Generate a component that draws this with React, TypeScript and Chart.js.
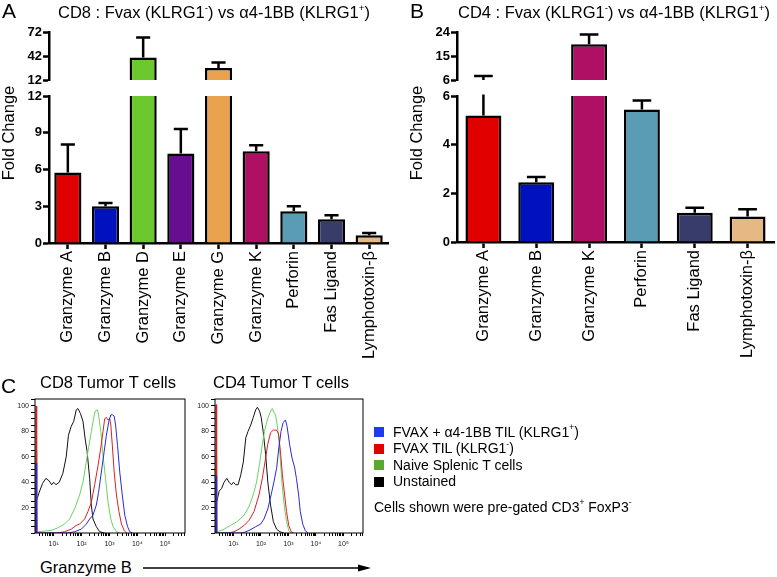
import React, { useEffect, useRef } from "react";
import { Chart, registerables } from "chart.js";
Chart.register(...registerables);

const FONT = "'Liberation Sans', Arial, Helvetica, sans-serif";
Chart.defaults.font.family = FONT;

// ---------- Panel A (CD8) ----------
const catsA = ["Granzyme A", "Granzyme B", "Granzyme D", "Granzyme E", "Granzyme G", "Granzyme K", "Perforin", "Fas Ligand", "Lymphotoxin-β"];
const valsA = [5.75, 3.0, 40, 7.3, 27, 7.5, 2.6, 1.93, 0.63];
const errA = [8.05, 3.27, 65, 9.3, 34, 7.97, 3.0, 2.26, 0.82];
const colorsA = ["#e00000", "#0012c0", "#6bc82f", "#660e8f", "#eba24f", "#b01064", "#5b9cb5", "#383c6a", "#e6b984"];
const lowTicksA = [0, 3, 6, 9, 12];
const highTicksA = [12, 42, 72];

// ---------- Panel B (CD4) ----------
const catsB = ["Granzyme A", "Granzyme B", "Granzyme K", "Perforin", "Fas Ligand", "Lymphotoxin-β"];
const valsB = [5.2, 2.46, 19.4, 5.45, 1.2, 1.05];
const errB = [7.5, 2.67, 23.1, 5.82, 1.41, 1.35];
const colorsB = ["#e00000", "#0012c0", "#b01064", "#5b9cb5", "#383c6a", "#e6b984"];
const lowTicksB = [0, 2, 4, 6];
const highTicksB = [6, 15, 24];

// ---------- Panel C histograms: [log10 decade, % of max] ----------
const cd8Black = [[0.33, 20], [0.36, 24], [0.48, 32], [0.6, 39], [0.72, 43], [0.84, 41], [0.93, 38], [1.0, 40], [1.08, 38], [1.2, 40], [1.33, 47], [1.45, 60], [1.53, 77], [1.63, 84], [1.72, 88], [1.81, 97], [1.87, 98], [1.96, 94], [2.05, 88], [2.13, 74], [2.2, 64], [2.29, 43], [2.35, 22], [2.41, 11], [2.53, 5], [2.65, 1], [2.83, 0]];
const cd8Green = [[0.36, 0], [0.37, 65], [0.39, 2], [0.42, 1], [0.9, 2], [1.14, 4], [1.39, 7], [1.57, 11], [1.75, 19], [1.93, 30], [2.05, 40], [2.17, 56], [2.25, 67], [2.35, 80], [2.43, 90], [2.49, 96], [2.57, 97], [2.61, 93], [2.69, 80], [2.77, 61], [2.86, 43], [2.95, 24], [3.05, 11], [3.13, 5], [3.25, 1], [3.37, 0]];
const cd8Red = [[0.36, 0], [0.37, 100], [0.39, 0], [1.14, 0], [1.39, 1], [1.63, 3], [1.81, 6], [1.93, 7], [2.11, 11], [2.23, 17], [2.35, 24], [2.47, 38], [2.59, 53], [2.69, 67], [2.77, 80], [2.83, 90], [2.89, 91], [2.95, 89], [3.01, 90], [3.05, 85], [3.1, 70], [3.17, 48], [3.25, 30], [3.34, 17], [3.43, 7], [3.53, 2], [3.61, 0]];
const cd8Blue = [[0.36, 0], [0.37, 55], [0.39, 0], [1.51, 0], [1.75, 1], [1.99, 3], [2.17, 7], [2.29, 11], [2.41, 14], [2.53, 22], [2.61, 32], [2.71, 48], [2.81, 64], [2.89, 77], [2.98, 88], [3.05, 93], [3.11, 93], [3.17, 92], [3.22, 85], [3.29, 69], [3.37, 48], [3.46, 30], [3.55, 14], [3.65, 5], [3.73, 1], [3.82, 0]];

const cd4Black = [[0.34, 22], [0.4, 25], [0.48, 33], [0.57, 35], [0.66, 40], [0.76, 43], [0.84, 40], [0.93, 38], [1.0, 40], [1.08, 38], [1.17, 38], [1.27, 46], [1.36, 56], [1.45, 75], [1.53, 80], [1.63, 85], [1.72, 91], [1.81, 97], [1.87, 99], [1.95, 96], [2.01, 91], [2.08, 80], [2.17, 62], [2.25, 40], [2.35, 22], [2.45, 9], [2.57, 3], [2.69, 1], [2.83, 0]];
const cd4Green = [[0.36, 0], [0.37, 60], [0.39, 2], [0.42, 1], [0.66, 3], [0.9, 6], [1.14, 9], [1.39, 14], [1.57, 21], [1.72, 30], [1.84, 40], [1.96, 56], [2.05, 70], [2.13, 80], [2.23, 89], [2.33, 95], [2.41, 98], [2.47, 95], [2.53, 93], [2.59, 85], [2.65, 75], [2.71, 56], [2.77, 38], [2.86, 19], [2.93, 9], [3.01, 2], [3.1, 0]];
const cd4Red = [[0.36, 0], [0.37, 101], [0.39, 0], [0.84, 0], [1.02, 1], [1.2, 3], [1.39, 6], [1.57, 10], [1.75, 17], [1.93, 30], [2.05, 43], [2.17, 59], [2.25, 70], [2.35, 79], [2.45, 81], [2.57, 81], [2.64, 78], [2.71, 64], [2.78, 46], [2.86, 30], [2.93, 17], [3.01, 6], [3.1, 1], [3.19, 0]];
const cd4Blue = [[0.36, 0], [0.37, 45], [0.39, 0], [1.33, 0], [1.57, 2], [1.81, 5], [1.99, 7], [2.11, 11], [2.25, 19], [2.37, 30], [2.47, 40], [2.57, 51], [2.65, 67], [2.73, 80], [2.81, 87], [2.89, 89], [2.95, 84], [3.04, 70], [3.13, 59], [3.22, 52], [3.29, 43], [3.37, 30], [3.43, 17], [3.52, 7], [3.61, 2], [3.7, 0]];

const histRange = [0.33, 5.71]; // decades shown on the x axis
const histDecades = [1, 2, 3, 4, 5];
const histYTicks = [20, 40, 60, 80, 100];
const supDigits = ["⁰", "¹", "²", "³", "⁴", "⁵"];

const lineColors = { blue: "#2a2ad8", red: "#dd1f1f", green: "#6ad35c", black: "#111111" };
const legendColors = ["#1f3bf0", "#e00000", "#5aa832", "#000000"];

// ---------- helpers ----------
function makeErrPlugin(vals: number[], errs: number[], capFrac: number) {
  return {
    id: "errBars",
    afterDatasetsDraw(chart: any) {
      const { ctx, chartArea, scales } = chart;
      const xs = scales.x, ys = scales.y;
      const capW = ((chartArea.right - chartArea.left) / vals.length) * capFrac;
      ctx.save();
      ctx.beginPath();
      ctx.rect(chartArea.left, chartArea.top - 1.5, chartArea.right - chartArea.left, chartArea.bottom - chartArea.top + 1.5);
      ctx.clip();
      ctx.strokeStyle = "#000";
      ctx.lineWidth = 2.5;
      vals.forEach((v, i) => {
        if (errs[i] <= ys.min) return;
        const px = xs.getPixelForValue(i);
        const y0 = ys.getPixelForValue(v);
        const y1 = ys.getPixelForValue(errs[i]);
        ctx.beginPath();
        ctx.moveTo(px, y0);
        ctx.lineTo(px, y1);
        ctx.moveTo(px - capW / 2, y1);
        ctx.lineTo(px + capW / 2, y1);
        ctx.stroke();
      });
      ctx.restore();
    },
  };
}

function barConfig(p: {
  cats: string[]; vals: number[]; errs: number[]; colors: string[]; ticks: number[];
  high: boolean; barPct: number; yw: number; padTop: number; padBottom: number; padRight: number; xh: number;
}): any {
  const min = p.ticks[0];
  const max = p.ticks[p.ticks.length - 1];
  const data = p.high ? p.vals.map((v) => (v > min ? v : null)) : p.vals;
  const grid = { drawOnChartArea: false, drawTicks: true, tickLength: 6, tickWidth: 2.5, tickColor: "#000", offset: false };
  const border = { display: true, color: "#000", width: 2.5 };
  return {
    type: "bar",
    data: {
      labels: p.cats,
      datasets: [{
        data, backgroundColor: p.colors, borderColor: "#000", borderWidth: 2.5,
        borderSkipped: "start", barPercentage: p.barPct, categoryPercentage: 1, clip: 0,
      }],
    },
    options: {
      animation: false, responsive: false, events: [],
      layout: { padding: { top: p.padTop, bottom: p.padBottom, right: p.padRight, left: 0 } },
      plugins: { legend: { display: false }, tooltip: { enabled: false } },
      scales: {
        x: {
          display: !p.high, offset: true, grid, border,
          ticks: { minRotation: 90, maxRotation: 90, autoSkip: false, padding: 2, color: "#000", font: { family: FONT, size: 16.5 } },
          afterFit: (s: any) => { s.height = p.xh; },
        },
        y: {
          min, max, grid, border,
          afterBuildTicks: (s: any) => { s.ticks = p.ticks.map((v) => ({ value: v })); },
          afterFit: (s: any) => { s.width = p.yw; },
          ticks: { padding: 1, color: "#000", font: { family: FONT, size: 13, weight: "bold" } },
        },
      },
    },
    plugins: [makeErrPlugin(p.vals, p.errs, p.barPct * 0.52)],
  };
}

const boxPlugin = {
  id: "box",
  afterDatasetsDraw(chart: any) {
    const { ctx, chartArea: a } = chart;
    ctx.save();
    ctx.strokeStyle = "#000";
    ctx.lineWidth = 1;
    ctx.strokeRect(a.left, a.top, a.right - a.left, a.bottom - a.top);
    ctx.restore();
  },
};

function histConfig(curves: { pts: number[][]; color: string }[]): any {
  const grid = { drawOnChartArea: false, drawTicks: true, tickWidth: 1, tickColor: "#000" };
  return {
    type: "line",
    data: {
      datasets: curves.map((c) => ({
        data: c.pts.map(([x, y]) => ({ x, y })),
        borderColor: c.color, borderWidth: 1, pointRadius: 0, tension: 0, fill: false, clip: 0,
      })),
    },
    options: {
      animation: false, responsive: false, events: [],
      layout: { padding: { top: 7, right: 7, left: 0, bottom: 0 } },
      plugins: { legend: { display: false }, tooltip: { enabled: false } },
      scales: {
        x: {
          type: "linear", min: histRange[0], max: histRange[1],
          grid: { ...grid, tickLength: 3 }, border: { display: false },
          afterBuildTicks: (s: any) => {
            const t: any[] = [];
            for (let n = 0; n <= 5; n++) {
              for (let k = 1; k <= 9; k++) {
                const v = n + Math.log10(k);
                if (v >= histRange[0] && v <= histRange[1]) t.push({ value: v });
              }
            }
            s.ticks = t;
          },
          afterFit: (s: any) => { s.height = 21; },
          ticks: {
            autoSkip: false, minRotation: 0, maxRotation: 0, padding: 4, color: "#222",
            font: { family: FONT, size: 7 },
            callback: (v: number) => {
              const r = Math.round(v);
              return Math.abs(v - r) < 1e-6 && histDecades.includes(r) ? "10" + supDigits[r] : "";
            },
          },
        },
        y: {
          min: 0, max: 105.5,
          grid: { ...grid, tickLength: 4 }, border: { display: false },
          afterBuildTicks: (s: any) => {
            const t: any[] = [];
            for (let v = 0; v <= 105; v += 5) t.push({ value: v });
            s.ticks = t;
          },
          afterFit: (s: any) => { s.width = 35; },
          ticks: {
            autoSkip: false, padding: 2, color: "#222", font: { family: FONT, size: 7 },
            callback: (v: number) => (histYTicks.includes(v) ? String(v) : ""),
          },
        },
      },
    },
    plugins: [boxPlugin],
  };
}

function ChartCanvas({ left, top, width, height, make }: { left: number; top: number; width: number; height: number; make: () => any }) {
  const ref = useRef<HTMLCanvasElement>(null);
  useEffect(() => {
    const chart = new Chart(ref.current as HTMLCanvasElement, make());
    return () => chart.destroy();
  }, []);
  return <canvas ref={ref} width={width} height={height} style={{ position: "absolute", left, top, width, height }} />;
}

const Txt = ({ x, base, size, children, bold = false }: any) => (
  <div style={{ position: "absolute", left: x, top: base - 0.8465 * size, fontSize: size, lineHeight: 1, whiteSpace: "nowrap", fontWeight: bold ? "bold" : "normal", color: "#000" }}>
    {children}
  </div>
);
const Sup = ({ children }: any) => (
  <span style={{ fontSize: "0.6em", position: "relative", top: "-0.75em" }}>{children}</span>
);
const VText = ({ cx, cy, size, children }: any) => (
  <div style={{ position: "absolute", left: cx, top: cy, transform: "translate(-50%,-50%) rotate(-90deg)", fontSize: size, lineHeight: 1, whiteSpace: "nowrap", color: "#000" }}>
    {children}
  </div>
);

export default function App() {
  const legendRows = [
    <>FVAX + α4-1BB TIL (KLRG1<Sup>+</Sup>)</>,
    <>FVAX TIL (KLRG1<Sup>-</Sup>)</>,
    <>Naive Splenic T cells</>,
    <>Unstained</>,
  ];
  const legendBase = [436.5, 453, 469.5, 486];
  return (
    <div style={{ position: "absolute", left: 0, top: 0, width: 777, height: 577, background: "#fff", fontFamily: FONT, overflow: "hidden" }}>
      {/* Panel A */}
      <ChartCanvas left={0} top={20} width={392} height={70} make={() => barConfig({ cats: catsA, vals: valsA, errs: errA, colors: colorsA, ticks: highTicksA, high: true, barPct: 0.72, yw: 49, padTop: 12, padBottom: 10, padRight: 4, xh: 0 })} />
      <ChartCanvas left={0} top={86} width={392} height={274} make={() => barConfig({ cats: catsA, vals: valsA, errs: errA, colors: colorsA, ticks: lowTicksA, high: false, barPct: 0.72, yw: 49, padTop: 10, padBottom: 0, padRight: 4, xh: 117 })} />
      {/* Panel B */}
      <ChartCanvas left={392} top={20} width={385} height={70} make={() => barConfig({ cats: catsB, vals: valsB, errs: errB, colors: colorsB, ticks: highTicksB, high: true, barPct: 0.68, yw: 65, padTop: 12, padBottom: 10, padRight: 3, xh: 0 })} />
      <ChartCanvas left={392} top={86} width={385} height={273} make={() => barConfig({ cats: catsB, vals: valsB, errs: errB, colors: colorsB, ticks: lowTicksB, high: false, barPct: 0.68, yw: 65, padTop: 10, padBottom: 0, padRight: 3, xh: 117 })} />
      {/* Panel C */}
      <ChartCanvas left={0} top={392} width={192} height={162} make={() => histConfig([
        { pts: cd8Blue, color: lineColors.blue }, { pts: cd8Red, color: lineColors.red },
        { pts: cd8Green, color: lineColors.green }, { pts: cd8Black, color: lineColors.black },
      ])} />
      <ChartCanvas left={180} top={392} width={190} height={162} make={() => histConfig([
        { pts: cd4Blue, color: lineColors.blue }, { pts: cd4Red, color: lineColors.red },
        { pts: cd4Green, color: lineColors.green }, { pts: cd4Black, color: lineColors.black },
      ])} />

      {/* Texts */}
      <Txt x={2} base={17.5} size={21}>A</Txt>
      <Txt x={410} base={17.5} size={21}>B</Txt>
      <Txt x={1} base={393} size={21}>C</Txt>
      <Txt x={58} base={18} size={16.5}>CD8 : Fvax (KLRG1<Sup>-</Sup>) vs α4-1BB (KLRG1<Sup>+</Sup>)</Txt>
      <Txt x={458} base={18} size={16.5}>CD4 : Fvax (KLRG1<Sup>-</Sup>) vs α4-1BB (KLRG1<Sup>+</Sup>)</Txt>
      <VText cx={8} cy={132.5} size={16.5}>Fold Change</VText>
      <VText cx={416} cy={132.5} size={16.5}>Fold Change</VText>
      <Txt x={40} base={388} size={16.5}>CD8 Tumor T cells</Txt>
      <Txt x={213} base={388} size={16.5}>CD4 Tumor T cells</Txt>
      <Txt x={40} base={572.5} size={16.5}>Granzyme B</Txt>
      <svg style={{ position: "absolute", left: 0, top: 0 }} width={777} height={577}>
        <line x1={143} y1={568} x2={362} y2={568} stroke="#000" strokeWidth={1.3} />
        <polygon points="358,564.5 371,568 358,571.5" fill="#000" />
      </svg>
      {legendRows.map((row, i) => (
        <React.Fragment key={i}>
          <div style={{ position: "absolute", left: 374, top: legendBase[i] - 9.5, width: 10, height: 10, background: legendColors[i] }} />
          <Txt x={393} base={legendBase[i]} size={14}>{row}</Txt>
        </React.Fragment>
      ))}
      <Txt x={374} base={511.5} size={14}>Cells shown were pre-gated CD3<Sup>+</Sup> FoxP3<Sup>-</Sup></Txt>
    </div>
  );
}
